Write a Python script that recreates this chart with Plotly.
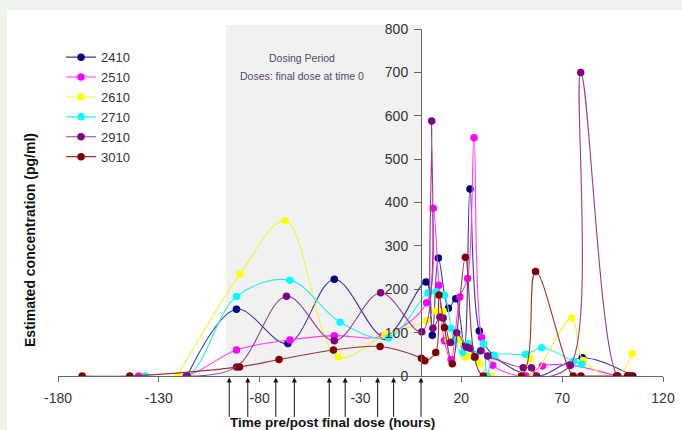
import plotly.graph_objects as go

# ---- data ----
series_names = ["2410", "2510", "2610", "2710", "2910", "3010"]
series_colors = ["#000080", "#FF00FF", "#FFFF00", "#00FFFF", "#800080", "#800000"]
line_colors = ["#3a3a98", "#FF3CFF", "#F2F23C", "#2EEAF2", "#983A98", "#983434"]

t_2410 = [-116, -91.5, -66, -43, -18, 2.5, 5.6, 8.6, 13.6, 17.2, 21.5, 24.3, 28.9, 36, 57, 80, 105]
c_2410 = [0, 154, 75, 223, 91, 217, 94, 272, 156, 178, 70, 431, 104, 47, 0, 42, 0]

t_2510 = [-140, -116.5, -91.5, -65, -43, -19, 2.8, 6.1, 8.9, 11.6, 14.9, 19.3, 23.1, 26.3, 30, 35.6, 52, 60.2, 74, 97]
c_2510 = [0, 0, 60, 83, 93, 92, 169, 387, 209, 81, 38, 182, 225, 549, 89, 25, 0, 23, 25, 0]

t_2610 = [-120.7, -89.8, -67.3, -41, -18, 2.8, 7.3, 11, 13.4, 19, 21.7, 23.9, 29, 35, 49.5, 54.2, 55.5, 74.7, 80.4, 97, 104.7]
c_2610 = [0, 235, 358, 44, 95, 128, 150, 150, 83, 83, 44, 46, 30, 0, 0, 41, 0, 134, 36, 0, 52]

t_2710 = [-136.8, -115.7, -91.5, -65, -40.1, -16, 3.5, 7.4, 11.6, 14.9, 16.5, 20.7, 23.4, 26.8, 30.9, 32.7, 36.3, 51.9, 59.8, 75.8, 79.6]
c_2710 = [0, 0, 183, 221, 124, 88, 192, 194, 186, 110, 81, 54, 75, 51, 75, 0, 47, 50, 65, 34, 27]

t_2910 = [-116, -91.5, -66.7, -43, -20, 0.4, 5.3, 5.9, 9.4, 11, 14.6, 17.7, 22.5, 24.3, 26.8, 29.6, 33.1, 50.7, 54.8, 57.3, 74, 79.2, 97.6, 103]
c_2910 = [0, 21, 184, 81, 192, 102, 588, 110, 136, 134, 77, 100, 67, 64, 44, 58, 46, 19, 19, 0, 25, 700, 0, 0]

t_3010 = [-168, -144.4, -90, -70.4, -43.4, -20.3, 0.2, 1.9, 7.3, 8.9, 11.6, 15.5, 22, 26.5, 30.9, 49.9, 56.8, 75.5, 79.3, 97, 102.4, 104]
c_3010 = [0, 0, 21, 38, 60, 68, 41, 35, 54, 187, 112, 28, 274, 44, 0, 0, 241, 0, 0, 0, 0, 0]

dose_times = [-95.1, -85.9, -72.0, -62.8, -45.5, -37.6, -21.5, -13.6, 0]
x_ticks = [-180, -130, -80, -30, 20, 70, 120]
y_ticks = [0, 100, 200, 300, 400, 500, 600, 700, 800]
dosing_start = -96.7

times = [t_2410, t_2510, t_2610, t_2710, t_2910, t_3010]
concs = [c_2410, c_2510, c_2610, c_2710, c_2910, c_3010]

FONT = "Arial, Liberation Sans, sans-serif"

fig = go.Figure()
for name, col, lcol, t, c in zip(series_names, series_colors, line_colors, times, concs):
    fig.add_trace(go.Scatter(
        x=t, y=c, name=name, mode="lines+markers",
        line=dict(color=lcol, width=1.1, shape="spline", smoothing=1),
        marker=dict(color=col, size=7.5, line=dict(width=0)),
    ))

XMIN, XMAX = -180, 120
def xp(v):
    return (v - XMIN) / (XMAX - XMIN)

shapes = [
    # white slide panel
    dict(type="rect", xref="paper", yref="paper", x0=-0.0843, x1=1.04, y0=-0.2, y1=1.055,
         fillcolor="white", line=dict(width=0), layer="below"),
    # dosing period
    dict(type="rect", xref="paper", yref="paper", x0=xp(dosing_start), x1=xp(0), y0=0, y1=1.0115,
         fillcolor="#F1F1F1", line=dict(width=0), layer="below"),
]

annotations = []
for d in dose_times:
    annotations.append(dict(x=d, y=-0.004, xref="x", yref="paper", text="", showarrow=True,
                            ax=0, ay=41, axref="pixel", ayref="pixel",
                            arrowhead=2, arrowsize=1, arrowwidth=1, arrowcolor="#111111",
                            standoff=0, startstandoff=0))
annotations += [
    dict(x=-59, y=0.916, xref="x", yref="paper", text="Dosing Period", showarrow=False,
         xanchor="center", yanchor="middle",
         font=dict(family=FONT, size=10.5, color="#5a4668")),
    dict(x=-59, y=0.865, xref="x", yref="paper", text="Doses: final dose at time 0", showarrow=False,
         xanchor="center", yanchor="middle",
         font=dict(family=FONT, size=10.5, color="#5a4668")),
    dict(x=0.4545, y=-0.135, xref="paper", yref="paper", text="<b>Time pre/post final dose (hours)</b>",
         xanchor="center", yanchor="middle",
         showarrow=False, font=dict(family=FONT, size=13.5, color="#111111")),
    dict(x=-0.0463, y=0.392, xref="paper", yref="paper", text="<b>Estimated concentration (pg/ml)</b>",
         xanchor="center", yanchor="middle",
         textangle=-90, showarrow=False, font=dict(family=FONT, size=14, color="#111111")),
]

fig.update_layout(
    width=682, height=430,
    margin=dict(l=58, r=19, t=29, b=54, autoexpand=False),
    paper_bgcolor="#EEF4EB", plot_bgcolor="rgba(0,0,0,0)",
    showlegend=True,
    legend=dict(x=0.005, y=0.962, xanchor="left", yanchor="top",
                bgcolor="rgba(0,0,0,0)", font=dict(family=FONT, size=13, color="#333333"),
                itemwidth=30, tracegroupgap=0),
    xaxis=dict(range=[XMIN, XMAX], tickvals=x_ticks, ticktext=[str(v) for v in x_ticks],
               showline=True, linecolor="#666666", linewidth=1, ticks="outside", ticklen=5,
               tickcolor="#666666", showgrid=False, zeroline=False,
               tickfont=dict(family=FONT, size=14, color="#333333"), ticklabelstandoff=4),
    yaxis=dict(range=[0, 800], tickvals=y_ticks, anchor="free", position=xp(0),
               showline=True, linecolor="#666666", linewidth=1, ticks="outside", ticklen=7,
               tickcolor="#666666", showgrid=False, zeroline=False,
               tickfont=dict(family=FONT, size=14, color="#333333"), ticklabelstandoff=3),
    shapes=shapes, annotations=annotations,
)

fig.write_html("out.html", config={"displayModeBar": False},
               post_script="document.body.style.margin='0';document.body.style.overflow='hidden';")
